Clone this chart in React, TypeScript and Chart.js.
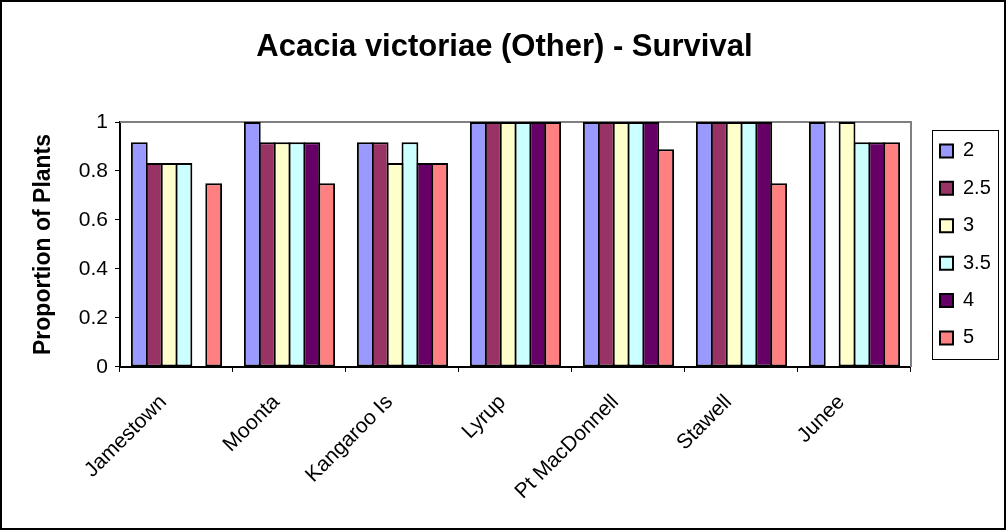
import React, { useEffect, useRef } from "react";
import { Chart, registerables } from "chart.js";

Chart.register(...registerables);

const TITLE = "Acacia victoriae (Other) - Survival";
const Y_TITLE = "Proportion of Plants";
const categories = ["Jamestown", "Moonta", "Kangaroo Is", "Lyrup", "Pt MacDonnell", "Stawell", "Junee"];
const seriesLabels = ["2", "2.5", "3", "3.5", "4", "5"];
const s2 = [0.917, 1, 0.917, 1, 1, 1, 1];
const s25 = [0.833, 0.917, 0.917, 1, 1, 1, null];
const s3 = [0.833, 0.917, 0.833, 1, 1, 1, 1];
const s35 = [0.833, 0.917, 0.917, 1, 1, 1, 0.917];
const s4 = [null, 0.917, 0.833, 1, 1, 1, 0.917];
const s5 = [0.75, 0.75, 0.833, 1, 0.889, 0.75, 0.917];
const Y_MIN = 0;
const Y_MAX = 1;
const Y_STEP = 0.2;
const colors = ["#9999FF", "#993366", "#FFFFCC", "#CCFFFF", "#660066", "#FF8080"];

const FONT = "'Liberation Sans', Arial, sans-serif";

const framePlugin = {
  id: "frame",
  beforeDatasetsDraw(chart: any) {
    const { ctx, chartArea } = chart;
    const { left, top, right, bottom } = chartArea;
    ctx.save();
    ctx.strokeStyle = "#808080";
    ctx.lineWidth = 2;
    ctx.beginPath();
    ctx.moveTo(left, top);
    ctx.lineTo(right, top);
    ctx.lineTo(right, bottom);
    ctx.stroke();
    ctx.restore();
  },
  afterDraw(chart: any) {
    const ctx = chart.ctx;
    const lg = chart.legend;
    const hb = lg && lg.legendHitBoxes;
    ctx.save();
    if (hb && hb.length) {
      const first = hb[0];
      const last = hb[hb.length - 1];
      const maxW = Math.max(...hb.map((h: any) => h.width));
      const x0 = Math.round(first.left - 8) + 0.5;
      const y0 = Math.round(first.top - 11) + 0.5;
      const x1 = Math.round(first.left + maxW + 7) + 0.5;
      const y1 = Math.round(last.top + last.height + 11) + 0.5;
      ctx.strokeStyle = "#000";
      ctx.lineWidth = 1;
      ctx.strokeRect(x0, y0, x1 - x0, y1 - y0);
    }
    ctx.strokeStyle = "#000";
    ctx.lineWidth = 2;
    ctx.strokeRect(1, 1, chart.width - 2, chart.height - 2);
    ctx.restore();
  },
};

export default function App() {
  const ref = useRef<HTMLCanvasElement | null>(null);
  useEffect(() => {
    if (!ref.current) return;
    Chart.defaults.color = "#000";
    Chart.defaults.font.family = FONT;
    const series = [s2, s25, s3, s35, s4, s5];
    const chart = new Chart(ref.current, {
      type: "bar",
      data: {
        labels: categories,
        datasets: series.map((d, i) => ({
          label: seriesLabels[i],
          data: d,
          backgroundColor: colors[i],
          borderColor: "#000",
          borderWidth: 2,
          borderSkipped: false,
          categoryPercentage: 0.79,
          barPercentage: 1.13,
        })),
      },
      options: {
        responsive: false,
        animation: false,
        devicePixelRatio: 1,
        layout: { padding: { left: 8, right: 5.2, top: 0, bottom: 7.7 } },
        plugins: {
          title: {
            display: true,
            text: TITLE,
            color: "#000",
            font: { family: FONT, size: 31, weight: "bold", lineHeight: 1.2 },
            padding: { top: 29, bottom: 55.8 },
          },
          legend: {
            display: true,
            position: "right",
            fullSize: false,
            align: "center",
            labels: {
              color: "#000",
              font: { family: FONT, size: 20 },
              boxWidth: 13,
              boxHeight: 13,
              padding: 17.4,
            },
          },
          tooltip: { enabled: false },
        },
        scales: {
          x: {
            grid: {
              display: true,
              drawOnChartArea: false,
              drawTicks: true,
              tickLength: 5,
              color: "#000",
              lineWidth: 1,
              offset: true,
            },
            border: { display: true, color: "#000", width: 2 },
            ticks: {
              autoSkip: false,
              minRotation: 45,
              maxRotation: 45,
              padding: 18,
              labelOffset: -13,
              color: "#000",
              font: { family: FONT, size: 21 },
            },
          },
          y: {
            min: Y_MIN,
            max: Y_MAX,
            grid: {
              display: true,
              drawOnChartArea: false,
              drawTicks: true,
              tickLength: 5,
              color: "#000",
              lineWidth: 1,
            },
            border: { display: true, color: "#000", width: 2 },
            ticks: {
              stepSize: Y_STEP,
              padding: 7,
              color: "#000",
              font: { family: FONT, size: 21 },
              callback: (v: any) => String(+Number(v).toFixed(2)),
            },
            title: {
              display: true,
              text: Y_TITLE,
              color: "#000",
              font: { family: FONT, size: 23, weight: "bold", lineHeight: 1.2 },
              padding: { top: 22.2, bottom: 14 },
            },
          },
          yRight: {
            position: "right",
            display: true,
            grid: { display: false, drawTicks: false },
            border: { display: false },
            ticks: { display: false },
            afterFit: (scale: any) => {
              scale.width = 11.6;
            },
          },
        },
      },
      plugins: [framePlugin],
    } as any);
    return () => chart.destroy();
  }, []);
  return (
    <div style={{ position: "absolute", left: 0, top: 0, width: 1006, height: 530, background: "#fff" }}>
      <canvas ref={ref} width={1006} height={530} style={{ display: "block", width: 1006, height: 530 }} />
    </div>
  );
}
